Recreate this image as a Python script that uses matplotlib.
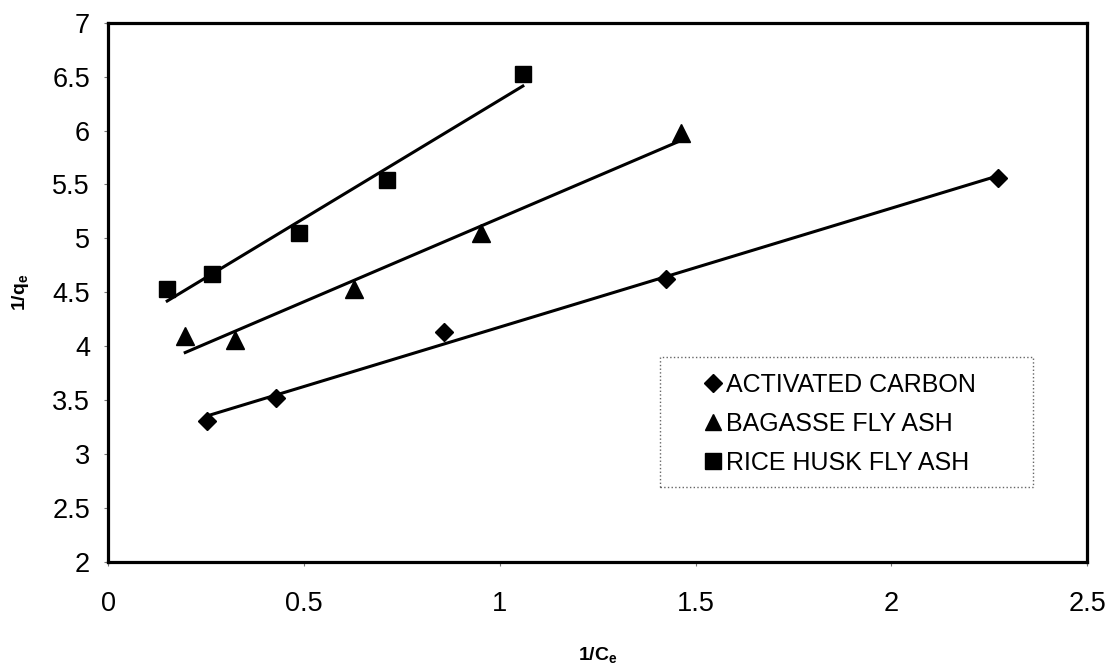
#!/usr/bin/env python3
"""Linearised isotherm plot: 1/qe against 1/Ce for three adsorbents."""

import matplotlib
matplotlib.use("Agg")
import matplotlib.pyplot as plt
from matplotlib.patches import Rectangle
import numpy as np

plt.rcParams["font.family"] = ["Liberation Sans", "DejaVu Sans"]
plt.rcParams["mathtext.default"] = "regular"

# 1/Ce and 1/qe for each adsorbent
carbon_x = [0.253, 0.430, 0.857, 1.425, 2.271]
carbon_y = [3.31, 3.52, 4.13, 4.625, 5.56]
bagasse_x = [0.197, 0.325, 0.627, 0.951, 1.463]
bagasse_y = [4.09, 4.06, 4.53, 5.05, 5.98]
rice_x = [0.151, 0.266, 0.488, 0.711, 1.059]
rice_y = [4.53, 4.67, 5.05, 5.54, 6.52]

labels = ["ACTIVATED CARBON", "BAGASSE FLY ASH", "RICE HUSK FLY ASH"]
x_ticks = [0, 0.5, 1, 1.5, 2, 2.5]
y_ticks = [2, 2.5, 3, 3.5, 4, 4.5, 5, 5.5, 6, 6.5, 7]


def main() -> None:
    fig = plt.figure(figsize=(11.14, 6.68), dpi=100)
    ax = fig.add_axes([0.097, 0.159, 0.879, 0.807])

    series = [
        (carbon_x, carbon_y, "D", 9.5),
        (bagasse_x, bagasse_y, "^", 12.5),
        (rice_x, rice_y, "s", 12),
    ]
    for (xs, ys, marker, ms), label in zip(series, labels):
        xs = np.asarray(xs)
        ys = np.asarray(ys)
        # least-squares trend line over the measured range
        slope, icpt = np.polyfit(xs, ys, 1)
        xl = np.array([xs.min(), xs.max()])
        ax.plot(xl, slope * xl + icpt, color="black", lw=2.2, zorder=2)
        ax.plot(xs, ys, linestyle="none", marker=marker, ms=ms,
                color="black", label=label, zorder=3)

    ax.set_xlim(0, 2.5)
    ax.set_ylim(2, 7)
    ax.set_xticks(x_ticks)
    ax.set_xticklabels([f"{v:g}" for v in x_ticks])
    ax.set_yticks(y_ticks)
    ax.set_yticklabels([f"{v:g}" for v in y_ticks])
    ax.tick_params(axis="x", labelsize=19.5, length=3, width=0.8,
                   color="#777777", pad=18)
    ax.tick_params(axis="y", labelsize=19.5, length=3, width=0.8,
                   color="#777777", pad=10)
    for sp in ax.spines.values():
        sp.set_linewidth(2.3)
        sp.set_color("black")

    ax.set_xlabel("1/C$_e$", fontsize=14, fontweight="bold", labelpad=20)
    ax.set_ylabel("1/q$_e$", fontsize=14, fontweight="bold", labelpad=15)

    # legend entries without frame, plus a dotted box around them
    ax.legend(loc="upper left", bbox_to_anchor=(0.609, 0.351),
              borderaxespad=0, borderpad=0, frameon=False, fontsize=18,
              numpoints=1, handlelength=0.7, handletextpad=0.15,
              labelspacing=0.6, markerscale=0.95)
    ax.add_patch(Rectangle((0.564, 0.139), 0.381, 0.241,
                           transform=ax.transAxes, fill=False,
                           edgecolor="#666666", linestyle=":", lw=1.0,
                           zorder=1))

    fig.savefig("out.png", dpi=100)


if __name__ == "__main__":
    main()
